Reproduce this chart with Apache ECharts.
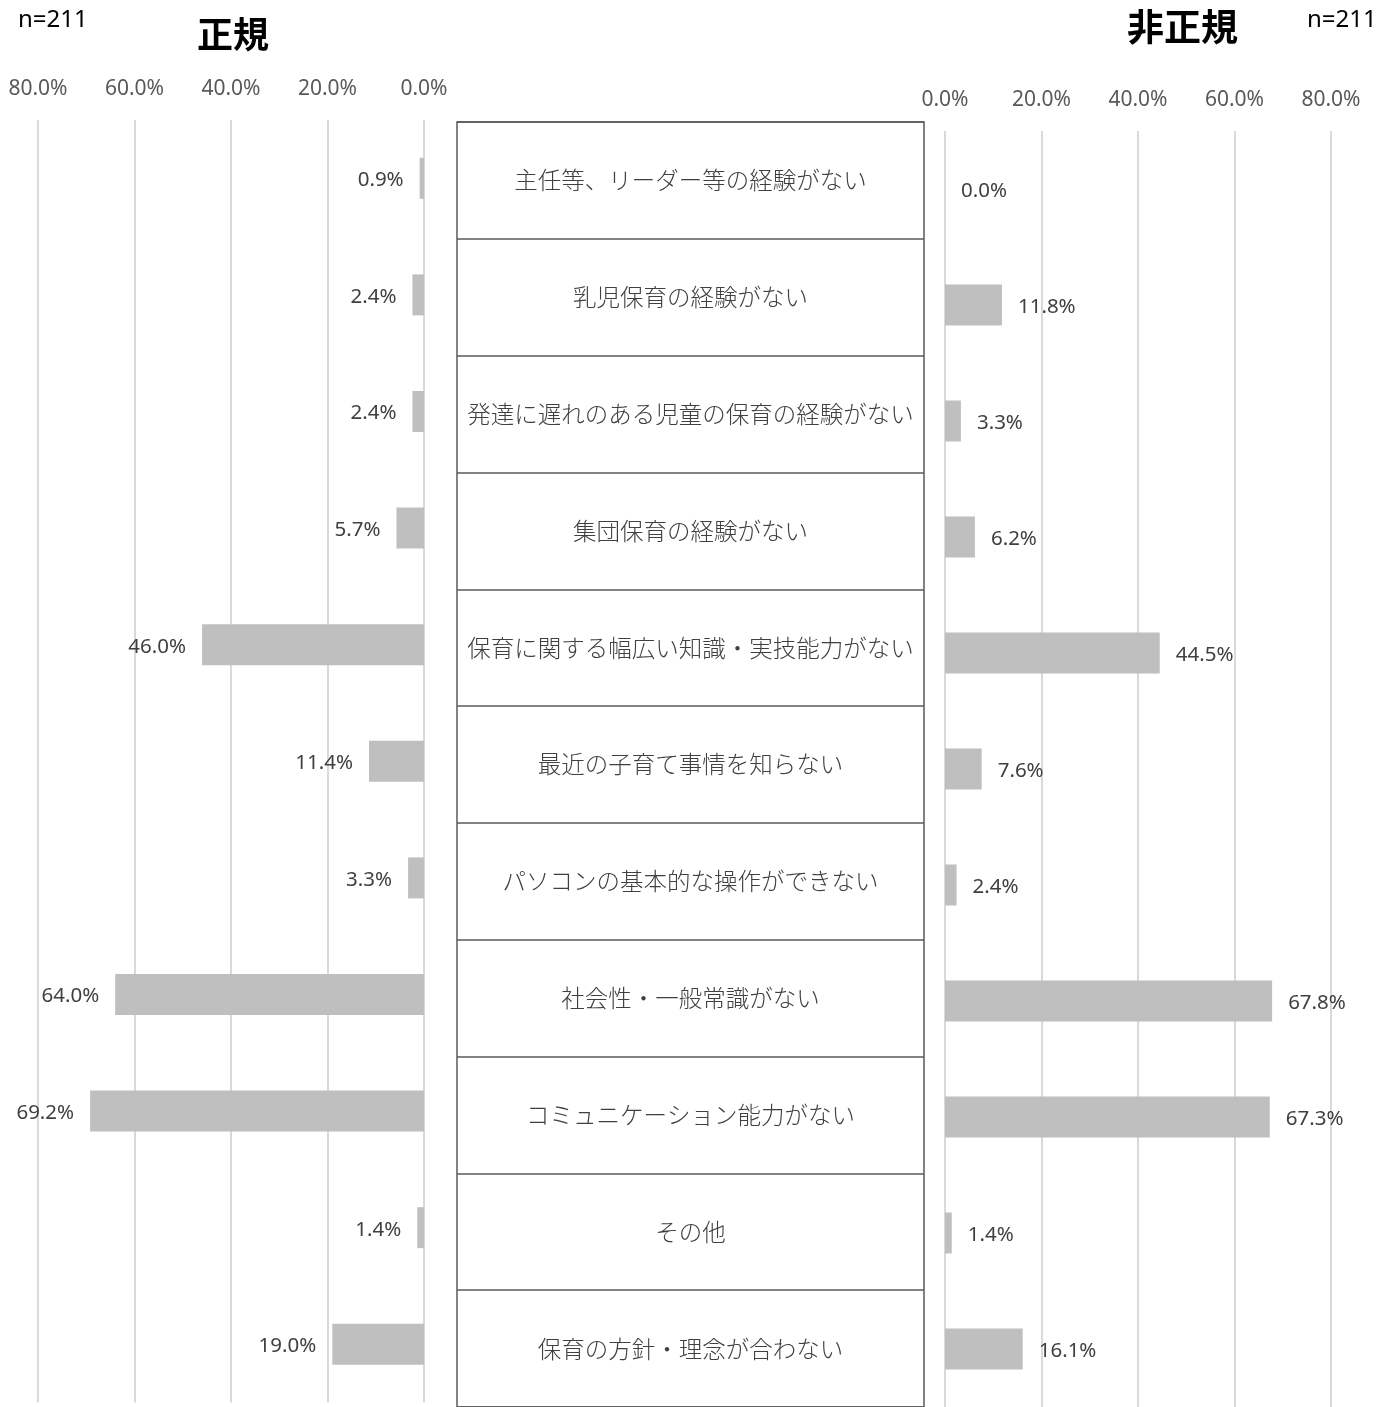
<!DOCTYPE html>
<html>
<head>
<meta charset="utf-8">
<script src="https://cdn.jsdelivr.net/npm/echarts@6/dist/echarts.min.js"></script>
<style>
html,body{margin:0;padding:0;background:#fff;}
#main{width:1382px;height:1407px;}
</style>
</head>
<body>
<div id="main"></div>
<script>
const categories = [
  '主任等、リーダー等の経験がない',
  '乳児保育の経験がない',
  '発達に遅れのある児童の保育の経験がない',
  '集団保育の経験がない',
  '保育に関する幅広い知識・実技能力がない',
  '最近の子育て事情を知らない',
  'パソコンの基本的な操作ができない',
  '社会性・一般常識がない',
  'コミュニケーション能力がない',
  'その他',
  '保育の方針・理念が合わない'
];
const seikiValues = [0.9, 2.4, 2.4, 5.7, 46.0, 11.4, 3.3, 64.0, 69.2, 1.4, 19.0];
const hiseikiValues = [0.0, 11.8, 3.3, 6.2, 44.5, 7.6, 2.4, 67.8, 67.3, 1.4, 16.1];
const axisTicks = [0, 20, 40, 60, 80];
const titleLeft = '正規';
const titleRight = '非正規';
const sampleNote = 'n=211';

const numFont = '"Noto Sans", "Open Sans", "Noto Sans CJK JP", sans-serif';
const jpFont = '"Noto Sans CJK JP", sans-serif';
const pct = v => v.toFixed(1) + '%';

const chart = echarts.init(document.getElementById('main'), null, {renderer: 'canvas'});

const valueAxis = (gridIndex, inverse) => ({
  type: 'value', gridIndex, inverse, position: 'top',
  min: axisTicks[0], max: axisTicks[axisTicks.length - 1], interval: 20,
  axisLine: {show: false}, axisTick: {show: false},
  axisLabel: {formatter: pct, fontSize: 21, color: '#595959', fontFamily: numFont, margin: 20},
  splitLine: {show: true, lineStyle: {color: '#D9D9D9', width: 2}}
});
const catAxis = (gridIndex) => ({
  type: 'category', gridIndex, data: categories, inverse: true,
  axisLine: {show: false}, axisTick: {show: false}, axisLabel: {show: false}, splitLine: {show: false}
});

chart.setOption({
  backgroundColor: '#fff',
  animation: false,
  graphic: [
    {type: 'text', left: 18, top: 8, style: {text: sampleNote, font: '24px ' + numFont, fill: '#000'}},
    {type: 'text', left: 1307, top: 8, style: {text: sampleNote, font: '24px ' + numFont, fill: '#000'}},
    {type: 'text', left: 197, top: 16, style: {text: titleLeft, font: 'bold 36px ' + jpFont, fill: '#000'}},
    {type: 'text', left: 1127, top: 8, style: {text: titleRight, font: 'bold 37px ' + jpFont, fill: '#000'}}
  ],
  grid: [
    {left: 38, width: 386, top: 120, height: 1282.6},
    {left: 945, width: 386, top: 131, height: 1282.6},
    {left: 457, width: 467, top: 122, height: 1290.3, show: true, borderColor: '#595959', borderWidth: 1.5, backgroundColor: 'transparent'}
  ],
  xAxis: [
    valueAxis(0, true),
    valueAxis(1, false),
    {type: 'value', gridIndex: 2, min: 0, max: 1, show: false}
  ],
  yAxis: [
    catAxis(0),
    catAxis(1),
    {
      type: 'category', gridIndex: 2, data: categories, inverse: true,
      axisLine: {show: false}, axisTick: {show: false},
      axisLabel: {show: true, align: 'center', margin: -233.5, fontSize: 23.5, fontWeight: 300, color: '#404040', fontFamily: jpFont},
      splitLine: {show: true, lineStyle: {color: '#595959', width: 1.5}}
    }
  ],
  series: [
    {
      type: 'bar', xAxisIndex: 0, yAxisIndex: 0, data: seikiValues, barWidth: 41,
      itemStyle: {color: '#BFBFBF'},
      label: {show: true, position: 'left', distance: 16, offset: [0, 2], formatter: p => pct(p.value), fontSize: 20.5, color: '#404040', fontFamily: numFont}
    },
    {
      type: 'bar', xAxisIndex: 1, yAxisIndex: 1, data: hiseikiValues, barWidth: 41,
      itemStyle: {color: '#BFBFBF'},
      label: {show: true, position: 'right', distance: 16, offset: [0, 2], formatter: p => pct(p.value), fontSize: 20.5, color: '#404040', fontFamily: numFont}
    }
  ]
});
</script>
</body>
</html>
